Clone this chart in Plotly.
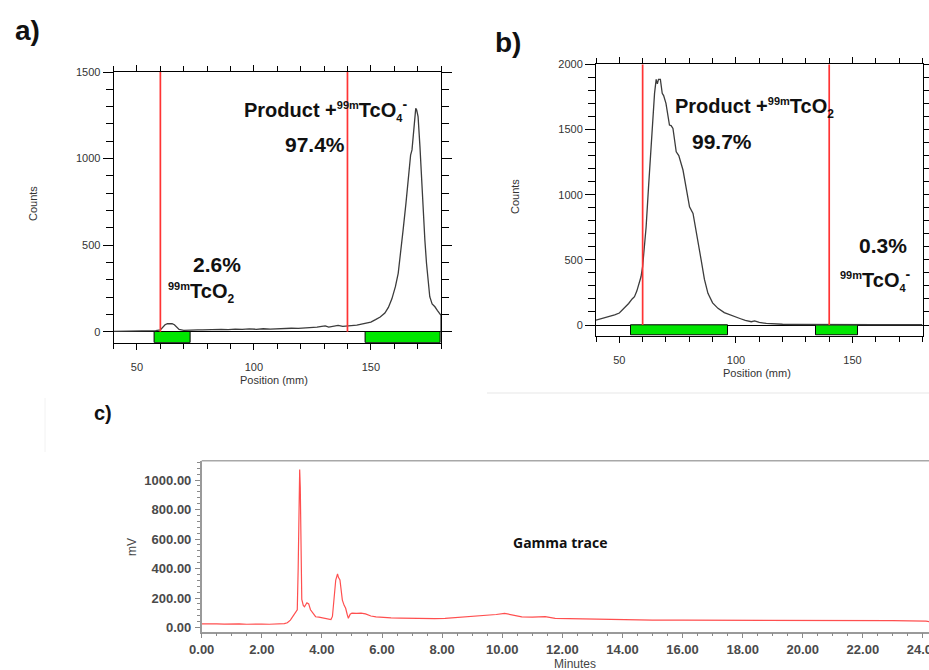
import plotly.graph_objects as go

W, H = 929, 670

# ---------------- data ----------------
# Radio-TLC scan a): position (mm) vs counts
a_pos = [40, 43, 46, 49, 52, 55, 58, 60, 61, 62, 63, 64, 65, 66, 67, 68, 70, 72, 74, 76,
         78, 80, 83, 86, 89, 92, 95, 98, 101, 104, 107, 110, 113, 116, 119, 122, 125,
         127, 129, 130.5, 132, 134, 136, 138, 140, 142, 144, 146, 148, 150, 152, 154,
         156, 157.5, 159, 160.5, 161.7, 163, 163.8, 165, 166, 167, 167.6, 168.3, 169.2,
         169.6, 170.2, 171, 171.7, 172.4, 173.1, 173.8, 174.5, 175.2, 176.2, 177.4,
         178.5, 179.5, 180, 180]
a_counts = [2, 3, 2, 4, 3, 4, 6, 10, 25, 40, 47, 48, 46, 40, 25, 13, 8, 10, 8, 11,
            10, 12, 11, 14, 12, 15, 13, 16, 14, 17, 15, 18, 17, 20, 19, 22, 21,
            26, 31, 34, 27, 33, 36, 31, 34, 33, 38, 44, 48, 56, 70, 85,
            108, 140, 190, 260, 337, 480, 588, 740, 880, 1020, 1050, 1160, 1290,
            1280, 1242, 1069, 880, 684, 530, 395, 290, 202, 160, 144,
            122, 106, 95, 0]

# Radio-TLC scan b): position (mm) vs counts
b_pos = [40, 42, 44, 46.4, 48, 50, 52.2, 54, 55.5, 56.5, 57.5, 58.5, 59.3, 60, 60.8, 61.5,
         62.5, 63.6, 64.4, 65.1, 65.8, 66.3, 66.8, 67.6, 68.4, 69, 70, 71, 71.5, 72.2, 73,
         74.4, 75.5, 77.3, 78.5, 80.1, 81.6, 83, 85.1, 86.5, 88, 90, 92.3, 95, 97, 99.4,
         102, 104, 106.6, 108, 110, 113, 116, 120, 125, 130, 140, 150, 160, 170, 180]
b_counts = [38, 48, 55, 69, 78, 92, 128, 165, 200, 217, 260, 320, 370, 450, 600, 754,
            1050, 1393, 1620, 1777, 1884, 1850, 1884, 1884, 1777, 1760, 1700, 1600, 1534, 1530, 1508,
            1329, 1300, 1189, 1080, 907, 856, 700, 498, 350, 243, 170, 128, 95, 80, 64,
            48, 35, 25, 32, 20, 12, 8, 6, 4, 3, 2, 2, 2, 2, 2]

# Region boundaries (red markers) and integration regions (green bars), mm
a_markers = [60, 140]
b_markers = [60, 140]
a_region_start = [57.7, 147.7]
a_region_end = [73.0, 179.8]
b_region_start = [55.0, 134.5]
b_region_end = [96.6, 152.4]

# Radio-HPLC gamma trace c): minutes vs mV
c_min = [0, 0.25, 0.5, 0.75, 1.0, 1.25, 1.5, 1.75, 2.0, 2.25, 2.5, 2.75, 2.85, 2.95, 3.05,
         3.12, 3.18, 3.21, 3.24, 3.26, 3.28, 3.30, 3.33, 3.38, 3.42, 3.5, 3.56, 3.62, 3.7,
         3.79, 3.9, 4.0, 4.1, 4.18, 4.25, 4.3, 4.35, 4.4, 4.46, 4.52, 4.55, 4.6, 4.68, 4.74,
         4.79, 4.84, 4.88, 4.94, 5.0, 5.15, 5.3, 5.45, 5.63, 5.8, 6.0, 6.3, 6.63, 7.0, 7.4,
         7.75, 8.1, 8.5, 8.9, 9.2, 9.5, 9.8, 10.08, 10.3, 10.65, 11.0, 11.43, 11.76, 12.2,
         12.7, 13.32, 14.0, 15.0, 16.0, 16.66, 17.5, 18.0, 19.0, 20.0, 21.1, 22.0, 23.0,
         24.1, 24.2]
c_mv = [25, 22, 24, 23, 25, 24, 22, 24, 23, 22, 24, 26, 32, 50, 80,
        105, 120, 400, 900, 1072, 950, 500, 190, 150, 141, 168, 160, 120, 95,
        73, 70, 66, 62, 64, 58, 54, 75, 200, 322, 363, 340, 322, 186, 150,
        130, 90, 62, 90, 98, 96, 98, 92, 78, 72, 68, 65, 64, 62, 60,
        60, 62, 68, 74, 80, 82, 88, 96, 88, 72, 70, 74, 62, 60,
        56, 53, 52, 50, 50, 50, 49, 50, 48, 48, 47, 47, 46,
        43, 40]

# ---------------- layout geometry (pixels) ----------------
def xp(px):
    return px / W


def yp(py):
    return 1 - py / H


A_X = [113.6, 441.0]
A_Y = [342.7, 72.0]
A_RANGE_Y = [-63.5, 1500]
B_X = [596.0, 922.5]
B_Y = [335.7, 64.3]
B_RANGE_Y = [-82, 2000]
C_X = [201.7, 929.0]
C_Y = [631.7, 460.7]
C_RANGE_Y = [-28.5, 1131]
C_RANGE_X = [0, 24.2]

TXT = "Arial, 'Liberation Sans', sans-serif"

fig = go.Figure()

# profile curves
fig.add_trace(go.Scatter(x=a_pos, y=a_counts, mode="lines", xaxis="x", yaxis="y",
                         line=dict(color="#3c3c3c", width=1.3), showlegend=False))
fig.add_trace(go.Scatter(x=b_pos, y=b_counts, mode="lines", xaxis="x2", yaxis="y2",
                         line=dict(color="#3c3c3c", width=1.3), showlegend=False))

# integration regions drawn as bars hanging below zero
for starts, ends, xa, ya, yr in [(a_region_start, a_region_end, "x", "y", A_RANGE_Y),
                                 (b_region_start, b_region_end, "x2", "y2", B_RANGE_Y)]:
    fig.add_trace(go.Bar(
        x=[(s + e) / 2 for s, e in zip(starts, ends)],
        width=[e - s for s, e in zip(starts, ends)],
        base=[yr[0]] * len(starts),
        y=[-yr[0]] * len(starts),
        xaxis=xa, yaxis=ya,
        marker=dict(color="#00e600", line=dict(color="#000000", width=1)),
        showlegend=False))

# region boundary markers
for markers, xa, ya, yr in [(a_markers, "x", "y", A_RANGE_Y), (b_markers, "x2", "y2", B_RANGE_Y)]:
    for m in markers:
        fig.add_trace(go.Scatter(x=[m, m], y=[0, yr[1]], mode="lines", xaxis=xa, yaxis=ya,
                                 line=dict(color="#ff3333", width=1.7), showlegend=False))

# gamma trace
fig.add_trace(go.Scatter(x=c_min, y=c_mv, mode="lines", xaxis="x3", yaxis="y3",
                         line=dict(color="#ff4f4f", width=1.2), showlegend=False))


def tlc_x(domain, anchor):
    return dict(domain=domain, range=[40, 180], anchor=anchor, automargin=False,
                showline=True, linecolor="#000", linewidth=1, mirror="allticks",
                ticks="outside", tickvals=[50, 100, 150], ticklen=6, tickcolor="#000",
                minor=dict(dtick=10, tick0=0, ticks="outside", ticklen=5, tickcolor="#000"),
                showgrid=False, zeroline=False, ticklabelstandoff=8,
                tickfont=dict(family=TXT, size=11, color="#333"))


def tlc_y(domain, anchor, rng, tickvals):
    return dict(domain=domain, range=rng, anchor=anchor, automargin=False,
                showline=True, linecolor="#000", linewidth=1, mirror="allticks",
                ticks="outside", tickvals=tickvals, ticklen=10, tickcolor="#000",
                minor=dict(dtick=100, tick0=0, ticks="outside", ticklen=7, tickcolor="#000"),
                showgrid=False, zeroline=True, zerolinecolor="#000", zerolinewidth=1,
                tickfont=dict(family=TXT, size=11, color="#333"))


fig.update_layout(
    width=W, height=H, margin=dict(l=0, r=0, t=0, b=0, autoexpand=False),
    paper_bgcolor="white", plot_bgcolor="white", bargap=0,
    xaxis=tlc_x([xp(A_X[0]), xp(A_X[1])], "y"),
    yaxis=tlc_y([yp(A_Y[0]), yp(A_Y[1])], "x", A_RANGE_Y, [0, 500, 1000, 1500]),
    xaxis2=tlc_x([xp(B_X[0]), xp(B_X[1])], "y2"),
    yaxis2=tlc_y([yp(B_Y[0]), yp(B_Y[1])], "x2", B_RANGE_Y, [0, 500, 1000, 1500, 2000]),
    xaxis3=dict(domain=[xp(C_X[0]), xp(C_X[1])], range=C_RANGE_X, anchor="y3", automargin=False,
                showline=True, linecolor="#9a9a9a", linewidth=1.5,
                ticks="outside", dtick=2, tick0=0, tickformat=".2f", ticklen=5,
                tickcolor="#8a8a8a", ticklabeloverflow="allow",
                minor=dict(dtick=0.5, ticks="outside", ticklen=3, tickcolor="#8a8a8a"),
                showgrid=False, zeroline=False, ticklabelstandoff=0,
                tickfont=dict(family=TXT, size=13, color="#4a4a4a", weight="bold")),
    yaxis3=dict(domain=[yp(C_Y[0]), yp(C_Y[1])], range=C_RANGE_Y, anchor="x3", automargin=False,
                showline=True, linecolor="#9a9a9a", linewidth=1.5,
                ticks="outside", dtick=200, tick0=0, tickformat=".2f", ticklen=5,
                tickcolor="#8a8a8a",
                minor=dict(dtick=40, ticks="outside", ticklen=3, tickcolor="#8a8a8a"),
                showgrid=False, zeroline=False, ticklabelstandoff=1,
                tickfont=dict(family=TXT, size=13, color="#4a4a4a", weight="bold")),
)

# top border of the HPLC frame and faint panel edges
fig.add_shape(type="line", xref="paper", yref="paper",
              x0=xp(C_X[0]), x1=1, y0=yp(C_Y[1]), y1=yp(C_Y[1]),
              line=dict(color="#a8a8a8", width=1.5))
fig.add_shape(type="line", xref="paper", yref="paper",
              x0=xp(487), x1=1, y0=yp(393), y1=yp(393),
              line=dict(color="#efefef", width=1.5))
fig.add_shape(type="line", xref="paper", yref="paper",
              x0=xp(45), x1=xp(45), y0=yp(398), y1=yp(452),
              line=dict(color="#f2f2f2", width=1))

ann = []


def label(text, x, y, size, bold=True, xanchor="center", angle=0, color="#111", family=TXT):
    ann.append(dict(text=text, x=xp(x), y=yp(y), xref="paper", yref="paper",
                    xanchor=xanchor, yanchor="middle", showarrow=False, textangle=angle,
                    font=dict(family=family, size=size, color=color,
                              weight="bold" if bold else "normal")))


def small(t, px=11):
    return "<span style='font-size:%dpx'>%s</span>" % (px, t)


ISO = "<sup>" + small("99m") + "</sup>"
SUB2 = "<sub>" + small("2", 12) + "</sub>"
SUB4 = "<sub>" + small("4", 11) + "</sub>"
MINUS = "<sup>" + small("-", 14) + "</sup>"

# panel letters
label("a)", 27, 30, 28)
label("b)", 508, 43, 28)
label("c)", 103, 413, 20)

# axis titles
label("Counts", 33, 204, 11, bold=False, angle=-90, color="#333")
label("Position (mm)", 274, 380, 11, bold=False, color="#333")
label("Counts", 515, 197, 11, bold=False, angle=-90, color="#333")
label("Position (mm)", 757, 373, 11, bold=False, color="#333")
label("mV", 132, 547, 12, bold=False, angle=-90, color="#444")
label("Minutes", 575, 664, 12, bold=False, color="#444")

# peak annotations
label("Product +" + ISO + "TcO" + SUB4 + MINUS, 242, 110, 20, xanchor="left")
label("97.4%", 315, 145, 21)
label("2.6%", 217, 265, 21)
label(ISO + "TcO" + SUB2, 166, 293, 20, xanchor="left")
label("Product +" + ISO + "TcO" + SUB2, 673, 108, 20, xanchor="left")
label("99.7%", 722, 142, 21)
label("0.3%", 883, 245, 21)
label(ISO + "TcO" + SUB4 + MINUS, 838, 280, 20, xanchor="left")
label("Gamma trace", 560, 542, 14, family="'Open Sans', 'Noto Sans', sans-serif")

fig.update_layout(annotations=ann)

fig.write_html("out.html")
